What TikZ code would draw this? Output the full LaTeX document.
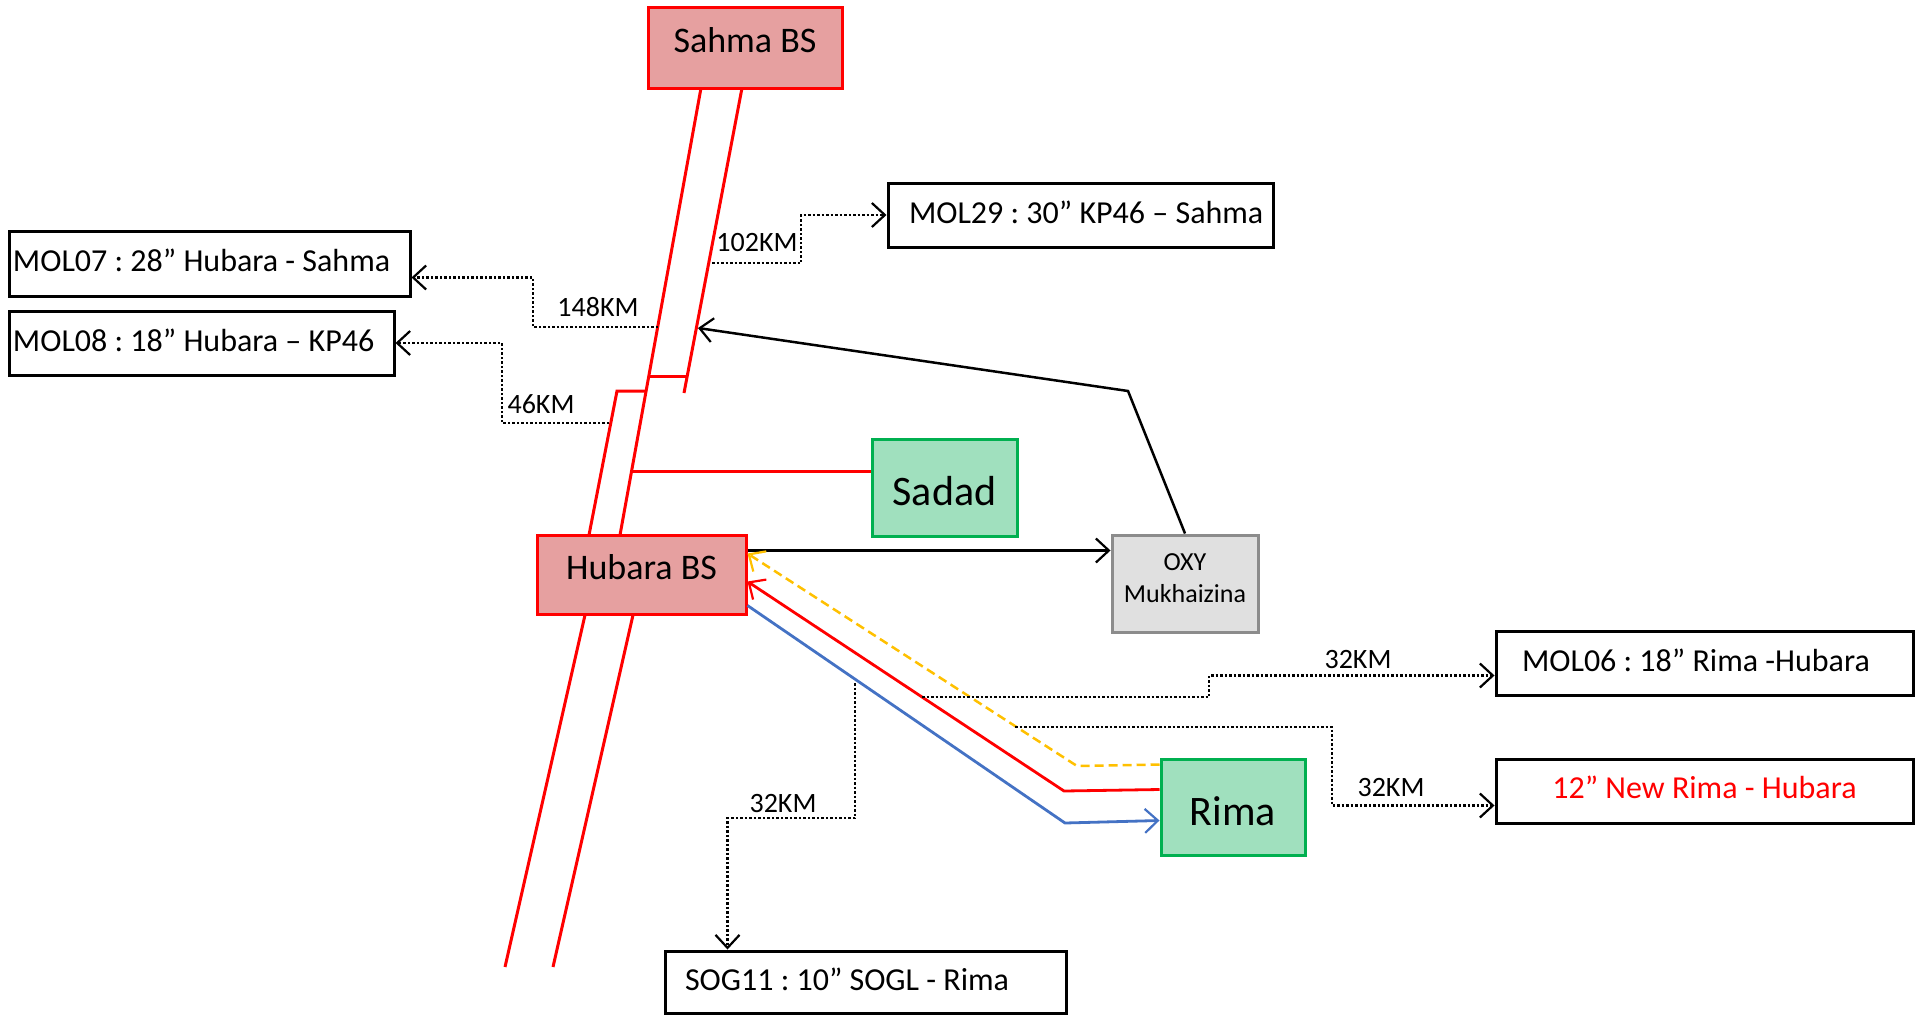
\documentclass[tikz,border=0pt]{standalone}
\usepackage{fontspec}
\setmainfont{Carlito}
\usetikzlibrary{arrows.meta}
\definecolor{pinkfill}{HTML}{E6A0A0}
\definecolor{greenfill}{HTML}{A0E0BE}
\definecolor{greenline}{HTML}{00B050}
\definecolor{grayfill}{HTML}{E0E0E0}
\definecolor{grayline}{HTML}{8C8C8C}
\definecolor{pipeblue}{HTML}{4472C4}
\definecolor{pipeyellow}{HTML}{FFC000}
\newcommand\padtext[3]{\makebox[#1][l]{\hspace*{#2}#3}}
\frenchspacing
\begin{document}
\begin{tikzpicture}[x=1pt,y=-1pt,
  station/.style={draw=red, line width=3pt, fill=pinkfill, inner sep=0pt, text height=28pt, text depth=18pt, font=\fontsize{36}{43}\selectfont},
  field/.style={draw=greenline, line width=3pt, fill=greenfill, inner sep=0pt, text height=37pt, text depth=1pt, font=\fontsize{42}{50}\selectfont},
  plant/.style={draw=grayline, line width=3pt, fill=grayfill, inner sep=0pt, align=center, text height=40pt, text depth=3pt, font=\fontsize{26}{32}\selectfont},
  linebox/.style={draw=black, line width=3pt, fill=white, inner sep=0pt, minimum height=64pt, text height=24pt, text depth=8pt, font=\fontsize{32}{38}\selectfont},
  pipe/.style={red, line width=3pt},
  openarrow/.style={-{Straight Barb[length=13pt,width=24pt,line width=2.2pt]}},
  dist/.style={black, line width=2.5pt, dash pattern=on 2.5pt off 2pt},
  km/.style={font=\fontsize{28}{34}\selectfont, inner sep=0pt}]
\useasboundingbox (0,0) rectangle (1921,1015);

% stations
\node[station, minimum width=194pt, minimum height=81pt] (sahma) at (745,47.5) {Sahma BS};
\node[station, minimum width=209pt, minimum height=79pt] (hubara) at (641.5,574.5) {Hubara BS};
\node[field, minimum width=145pt, minimum height=97pt] (sadad) at (944.5,487.5) {Sadad};
\node[field, minimum width=144pt, minimum height=96pt] (rima) at (1233,807) {Rima};
\node[plant, minimum width=146pt, minimum height=97pt] (oxy) at (1185,583.5) {OXY\\Mukhaizina};

% pipeline labels
\node[linebox] (mol29) at (1080.5,215) {\padtext{385pt}{21pt}{MOL29 : 30” KP46 – Sahma}};
\node[linebox, minimum height=65pt] (mol07) at (209.5,263.5) {\padtext{401pt}{4pt}{MOL07 : 28” Hubara - Sahma}};
\node[linebox] (mol08) at (201.5,343) {\padtext{385pt}{4pt}{MOL08 : 18” Hubara – KP46}};
\node[linebox] (mol06) at (1704.5,663) {\padtext{417pt}{26pt}{MOL06 : 18” Rima -Hubara}};
\node[linebox, text depth=10pt, text=red] (newrima) at (1704.5,791) {\makebox[417pt][c]{12” New Rima - Hubara}};
\node[linebox, minimum height=62pt] (sog11) at (865.5,982) {\padtext{401pt}{20pt}{SOG11 : 10” SOGL - Rima}};

% red pipeline corridor
\coordinate (a1) at (701,88);   \coordinate (a2) at (620,535);
\coordinate (b1) at (742,88);   \coordinate (b2) at (684,393);
\coordinate (c1) at (617,391);  \coordinate (c2) at (589,535);
\draw[pipe] (a1) -- (a2);
\draw[pipe] (b1) -- (b2);
\draw[pipe] (648.8,376) -- (687.2,376);
\draw[pipe] (646.1,391) -- (c1) -- (c2);
\draw[pipe] (631.6,471) -- (sadad.west |- 0,471);
\draw[pipe] (585,615) -- (505,967);
\draw[pipe] (633,615) -- (553,967);

% Hubara -> OXY, OXY -> KP46
\draw[black, line width=3pt, openarrow] ([yshift=-17pt]hubara.north east) -- ([yshift=-17pt]oxy.north west);
\coordinate (bend) at (1128,391);
\coordinate (kp) at (698,328);
\draw[black, line width=2.5pt, openarrow] (oxy.north) -- (bend) -- (kp);

% Rima <-> Hubara
\draw[pipeyellow, line width=2.5pt, dash pattern=on 9pt off 5pt, openarrow] ([yshift=-7pt]rima.north west) -- (1077,766) -- ([yshift=-20pt]hubara.north east);
\draw[red, line width=2.8pt, openarrow] ([yshift=-32pt]rima.north west) -- (1064,791) -- ([yshift=-48pt]hubara.north east);
\draw[pipeblue, line width=2.8pt, openarrow] ([yshift=-72pt]hubara.north east) -- (1065,823) -- ([yshift=-63pt]rima.north west);

% distance callouts
\draw[dist, openarrow] (712,263) -- (801,263) |- (mol29.west);
\node[km] (k102) at (757,243) {102KM};
\draw[dist, openarrow] (658,327) -- (533,327) |- ([yshift=-48pt]mol07.north east);
\node[km] (k148) at (598,307) {148KM};
\draw[dist, openarrow] (609,423) -- (502,423) |- (mol08.east);
\node[km] (k46) at (541,404) {46KM};
\draw[dist, openarrow] (922,697) -- (1209,697) |- ([yshift=-46pt]mol06.north west);
\node[km] (k32a) at (1358,659) {32KM};
\draw[dist, openarrow] (1015,727) -- (1332,727) |- ([yshift=-48pt]newrima.north west);
\node[km] (k32b) at (1391,787) {32KM};
\draw[dist, openarrow] (855,683) -- (855,818) -| ([xshift=64pt]sog11.north west);
\node[km] (k32c) at (783,803) {32KM};
\end{tikzpicture}
\end{document}
